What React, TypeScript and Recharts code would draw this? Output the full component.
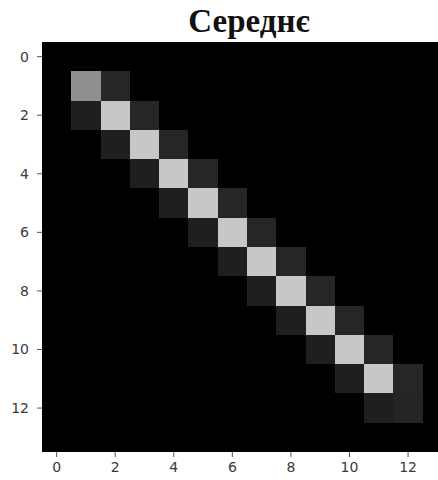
import { Scatter, ScatterChart, XAxis, YAxis } from "recharts";

const gridSize = 14;
const axisTicks = [0, 2, 4, 6, 8, 10, 12];
// value at (i, i)
const diagonal = [0, 0.56, 0.78, 0.78, 0.78, 0.78, 0.78, 0.78, 0.78, 0.78, 0.78, 0.78, 0.14, 0];
// value at (row i, col i + 1)
const upperBand = [0, 0.15, 0.15, 0.15, 0.15, 0.15, 0.15, 0.15, 0.15, 0.15, 0.15, 0.15, 0];
// value at (row i + 1, col i)
const lowerBand = [0, 0.12, 0.12, 0.12, 0.12, 0.12, 0.12, 0.12, 0.12, 0.12, 0.12, 0.12, 0];

const cells: { col: number; row: number; value: number }[] = [];
for (let row = 0; row < gridSize; row++) {
  for (let col = 0; col < gridSize; col++) {
    let value = 0;
    if (row === col) value = diagonal[row];
    else if (col === row + 1) value = upperBand[row];
    else if (row === col + 1) value = lowerBand[col];
    cells.push({ col, row, value });
  }
}

const plotSize = 410;
const cellPx = plotSize / gridSize;

function gray(v: number) {
  const g = Math.round(Math.min(1, Math.max(0, v)) * 255);
  return `rgb(${g},${g},${g})`;
}

function CellShape(props: any) {
  const { cx, cy, payload } = props;
  return (
    <rect
      x={cx - cellPx / 2}
      y={cy - cellPx / 2}
      width={cellPx + 1}
      height={cellPx + 1}
      fill={gray(payload.value)}
      shapeRendering="crispEdges"
    />
  );
}

const tickStyle = { fill: "#3a3a3a", fontSize: 14, fontFamily: "DejaVu Sans" };

export default function App() {
  return (
    <div
      style={{
        position: "absolute",
        left: 0,
        top: 0,
        width: 438,
        height: 480,
        overflow: "hidden",
        background: "#fff",
      }}
    >
      <div
        style={{
          position: "absolute",
          left: 44,
          width: plotSize,
          top: 5,
          lineHeight: 1,
          textAlign: "center",
          fontFamily: "Liberation Serif",
          fontWeight: "bold",
          fontSize: 33,
          color: "#111",
        }}
      >
        Середнє
      </div>
      <ScatterChart width={452} height={480} margin={{ top: 42, right: 0, bottom: 0, left: 0 }}>
        <XAxis
          type="number"
          dataKey="col"
          domain={[-0.5, 13.5]}
          ticks={axisTicks}
          allowDataOverflow
          height={28}
          axisLine={false}
          tickSize={5}
          tickMargin={5}
          tickLine={{ stroke: "#555" }}
          tick={tickStyle}
        />
        <YAxis
          type="number"
          dataKey="row"
          domain={[-0.5, 13.5]}
          ticks={axisTicks}
          reversed
          allowDataOverflow
          width={42}
          axisLine={false}
          tickSize={5}
          tickMargin={8}
          tickLine={{ stroke: "#555" }}
          tick={tickStyle}
        />
        <Scatter data={cells} shape={CellShape} isAnimationActive={false} />
      </ScatterChart>
    </div>
  );
}
